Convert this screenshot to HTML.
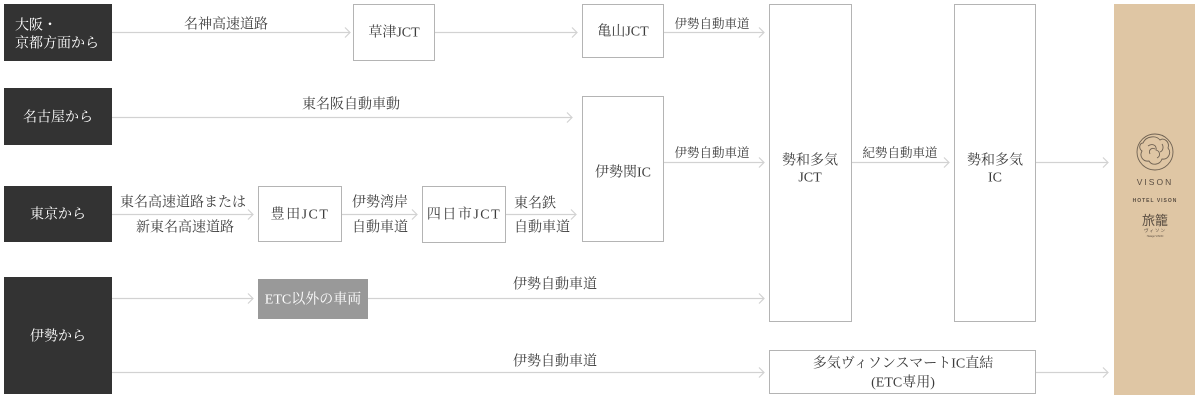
<!DOCTYPE html>
<html><head><meta charset="utf-8">
<style>
html,body{margin:0;padding:0;background:#fff;}
#c{position:relative;width:1200px;height:400px;overflow:hidden;font-family:"Liberation Serif","Noto Serif CJK SC",serif;color:#3c3c3c;}
.b{position:absolute;box-sizing:border-box;}
.dk{background:#333;color:#fff;font-size:14px;}
.wb{border:1px solid #b4b4b4;background:#fff;}
.t{position:absolute;white-space:nowrap;font-size:14px;line-height:1;transform:translate(-50%,-40%);}
.l{transform:translate(0,-40%);}
.s{font-size:12.5px;}
.w{color:#fff;}
svg{position:absolute;left:0;top:0;}
</style></head><body>
<div id="c">
<svg width="1200" height="400">
<g stroke="#d2d2d2" stroke-width="1.2" fill="none">
<line x1="112" y1="32.5" x2="350" y2="32.5"/><polyline points="345,27.5 350,32.5 345,37.5"/>
<line x1="435" y1="32.5" x2="577" y2="32.5"/><polyline points="572,27.5 577,32.5 572,37.5"/>
<line x1="664" y1="32.5" x2="764" y2="32.5"/><polyline points="759,27.5 764,32.5 759,37.5"/>
<line x1="112" y1="117.5" x2="572" y2="117.5"/><polyline points="567,112.5 572,117.5 567,122.5"/>
<line x1="664" y1="162.5" x2="764" y2="162.5"/><polyline points="759,157.5 764,162.5 759,167.5"/>
<line x1="112" y1="214.5" x2="253" y2="214.5"/><polyline points="248,209.5 253,214.5 248,219.5"/>
<line x1="342" y1="214.5" x2="417" y2="214.5"/><polyline points="412,209.5 417,214.5 412,219.5"/>
<line x1="506" y1="214.5" x2="576" y2="214.5"/><polyline points="571,209.5 576,214.5 571,219.5"/>
<line x1="112" y1="298.5" x2="253" y2="298.5"/><polyline points="248,293.5 253,298.5 248,303.5"/>
<line x1="368" y1="298.5" x2="764" y2="298.5"/><polyline points="759,293.5 764,298.5 759,303.5"/>
<line x1="112" y1="372.5" x2="764" y2="372.5"/><polyline points="759,367.5 764,372.5 759,377.5"/>
<line x1="852" y1="162.5" x2="949" y2="162.5"/><polyline points="944,157.5 949,162.5 944,167.5"/>
<line x1="1036" y1="162.5" x2="1108" y2="162.5"/><polyline points="1103,157.5 1108,162.5 1103,167.5"/>
<line x1="1036" y1="372.5" x2="1108" y2="372.5"/><polyline points="1103,367.5 1108,372.5 1103,377.5"/>
</g>
</svg>

<!-- dark source boxes -->
<div class="b dk" style="left:4px;top:4px;width:108px;height:57px;"></div>
<div class="t l w" style="left:15px;top:25px;">大阪・</div>
<div class="t l w" style="left:15px;top:43px;">京都方面から</div>
<div class="b dk" style="left:4px;top:88px;width:108px;height:57px;"></div>
<div class="t w" style="left:58px;top:117px;">名古屋から</div>
<div class="b dk" style="left:4px;top:186px;width:108px;height:56px;"></div>
<div class="t w" style="left:58px;top:214px;">東京から</div>
<div class="b dk" style="left:4px;top:277px;width:108px;height:117px;"></div>
<div class="t w" style="left:58px;top:336px;">伊勢から</div>

<!-- white boxes -->
<div class="b wb" style="left:353px;top:4px;width:82px;height:57px;"></div>
<div class="t" style="left:394px;top:32px;">草津JCT</div>
<div class="b wb" style="left:582px;top:4px;width:82px;height:54px;"></div>
<div class="t" style="left:623px;top:31px;">亀山JCT</div>
<div class="b wb" style="left:582px;top:96px;width:82px;height:146px;"></div>
<div class="t" style="left:623px;top:172px;">伊勢関IC</div>
<div class="b wb" style="left:258px;top:186px;width:84px;height:56px;"></div>
<div class="t" style="left:300px;top:214px;letter-spacing:1.5px;">豊田JCT</div>
<div class="b wb" style="left:422px;top:186px;width:84px;height:57px;"></div>
<div class="t" style="left:464px;top:214px;letter-spacing:1.5px;">四日市JCT</div>
<div class="b" style="left:258px;top:279px;width:110px;height:40px;background:#999;"></div>
<div class="t w" style="left:313px;top:299px;">ETC以外の車両</div>
<div class="b wb" style="left:769px;top:4px;width:83px;height:318px;"></div>
<div class="t" style="left:810px;top:160px;">勢和多気</div>
<div class="t" style="left:810px;top:177px;">JCT</div>
<div class="b wb" style="left:954px;top:4px;width:82px;height:318px;"></div>
<div class="t" style="left:995px;top:160px;">勢和多気</div>
<div class="t" style="left:995px;top:177px;">IC</div>
<div class="b wb" style="left:769px;top:350px;width:267px;height:44px;"></div>
<div class="t" style="left:903px;top:363px;">多気ヴィソンスマートIC直結</div>
<div class="t" style="left:903px;top:382px;">(ETC専用)</div>

<!-- connector labels -->
<div class="t" style="left:226px;top:24px;">名神高速道路</div>
<div class="t" style="left:351px;top:104px;">東名阪自動車動</div>
<div class="t s" style="left:712px;top:23px;">伊勢自動車道</div>
<div class="t s" style="left:712px;top:152px;">伊勢自動車道</div>
<div class="t s" style="left:900px;top:152px;">紀勢自動車道</div>
<div class="t" style="left:183px;top:202px;">東名高速道路または</div>
<div class="t" style="left:185px;top:227px;">新東名高速道路</div>
<div class="t" style="left:380px;top:202px;">伊勢湾岸</div>
<div class="t" style="left:380px;top:227px;">自動車道</div>
<div class="t l" style="left:514px;top:203px;">東名鉄</div>
<div class="t l" style="left:514px;top:227px;">自動車道</div>
<div class="t" style="left:555px;top:284px;">伊勢自動車道</div>
<div class="t" style="left:555px;top:361px;">伊勢自動車道</div>

<!-- hotel panel -->
<div class="b" style="left:1114px;top:4px;width:81px;height:391px;background:#dfc6a4;"></div>
<svg width="1200" height="400">
<g stroke="#6e6152" stroke-width="0.9" fill="none">
<circle cx="1155" cy="152" r="18"/>
<path d="M1143,143 C1146,136 1156,135 1160,140 C1164,137 1170,142 1168,148 C1172,153 1168,160 1162,159 C1160,165 1152,166 1149,161 C1143,162 1139,156 1142,151 C1138,148 1140,143 1143,143 Z"/>
<path d="M1148,146 C1152,143 1157,145 1156,150 C1160,151 1161,156 1157,158"/>
<path d="M1150,154 C1148,150 1152,147 1155,149"/>
<path d="M1162,144 C1164,147 1163,151 1160,152"/>
</g>
<text x="1155" y="185" font-family="Liberation Sans, sans-serif" font-size="8.5" fill="#5a4e42" text-anchor="middle" letter-spacing="2">VISON</text>
<text x="1155" y="202" font-family="Liberation Sans, sans-serif" font-size="5" font-weight="bold" fill="#5a4e42" text-anchor="middle" letter-spacing="1">HOTEL VISON</text>
<text x="1155" y="225" font-family="Noto Sans CJK JP, sans-serif" font-size="13" fill="#5a4e42" text-anchor="middle">旅籠</text>
<text x="1155" y="232" font-family="Noto Sans CJK JP, sans-serif" font-size="4.5" fill="#5a4e42" text-anchor="middle" letter-spacing="1">ヴィソン</text>
<text x="1155" y="237" font-family="Liberation Sans, sans-serif" font-size="2.5" fill="#5a4e42" text-anchor="middle">Hatago VISON</text>
</svg>
</div>
</body></html>
